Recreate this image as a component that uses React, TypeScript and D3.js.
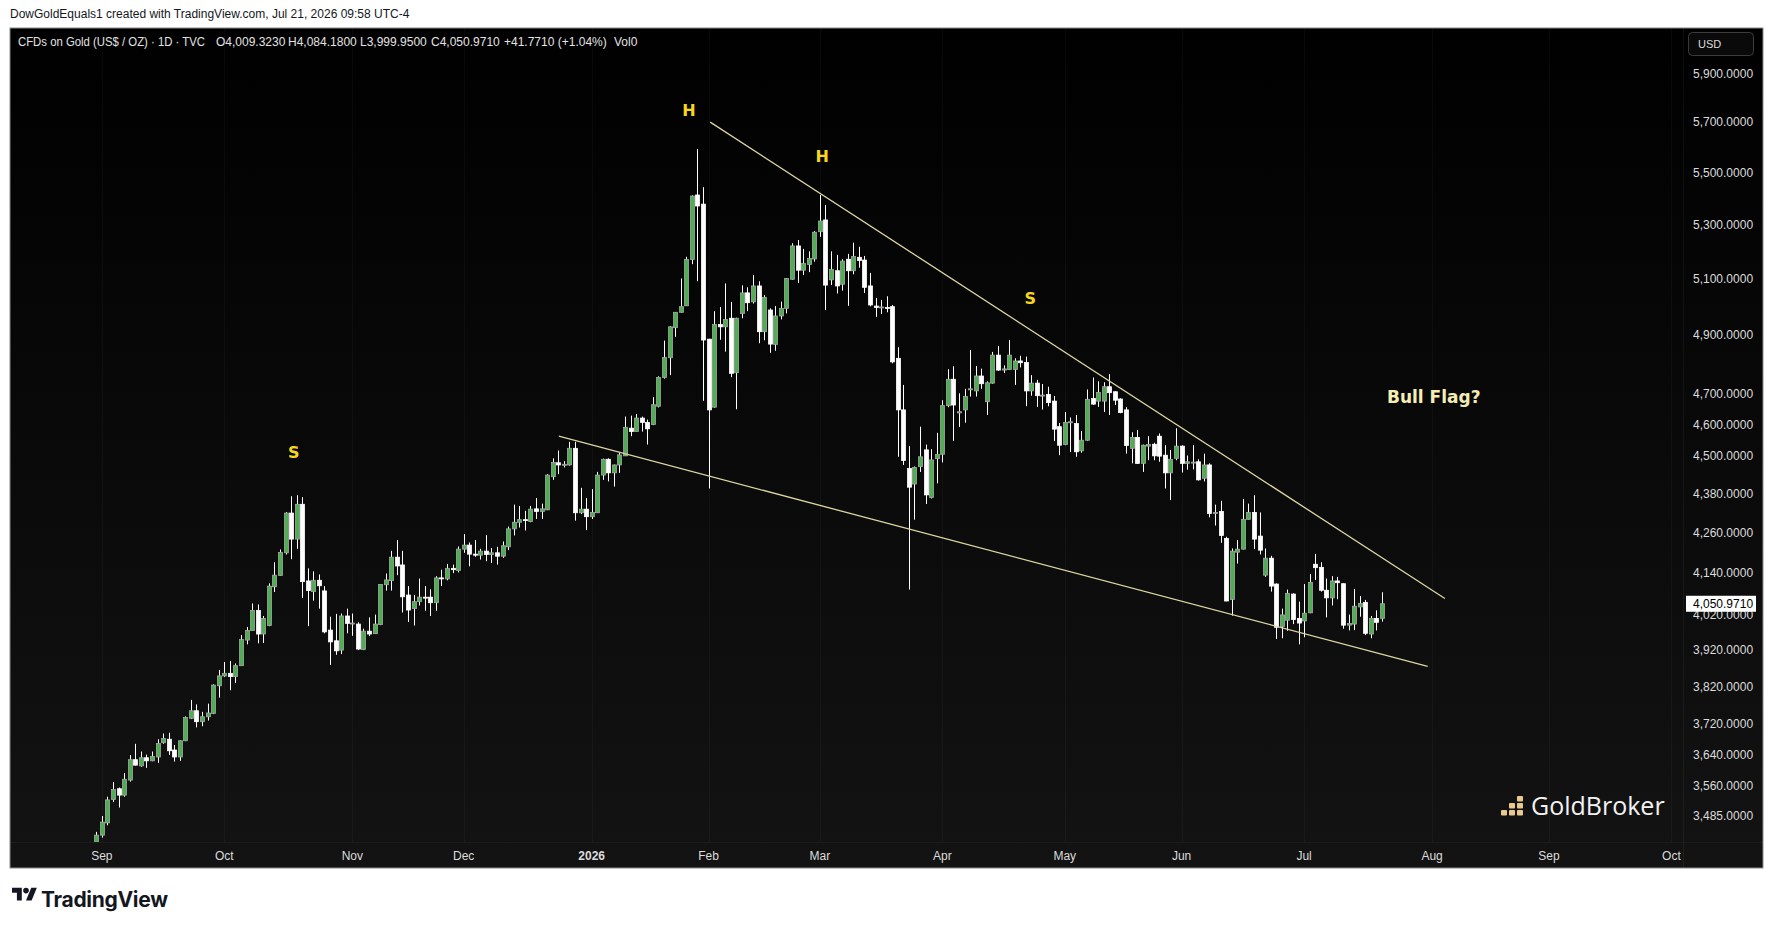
import React from 'react';
import * as d3 from 'd3';

// daily candles [open, high, low, close], first bar Fri 29 Aug 2025
const aug2025 = [[3421, 3446, 3415, 3438]];
const sep2025 = [
  [3438, 3485, 3432, 3470], [3468, 3533, 3462, 3525], [3526, 3570, 3520, 3551], [3553, 3556, 3506, 3537],
  [3537, 3593, 3533, 3577], [3575, 3639, 3571, 3627], [3627, 3668, 3612, 3613], [3611, 3648, 3609, 3632],
  [3632, 3640, 3606, 3624], [3624, 3648, 3623, 3635], [3634, 3680, 3619, 3669], [3671, 3695, 3668, 3682],
  [3680, 3697, 3639, 3650], [3652, 3665, 3622, 3634], [3634, 3677, 3624, 3676], [3676, 3740, 3675, 3737],
  [3735, 3784, 3733, 3755], [3755, 3772, 3711, 3726], [3726, 3752, 3714, 3739], [3739, 3774, 3729, 3749],
  [3748, 3826, 3746, 3824], [3822, 3865, 3790, 3849],
];
const oct2025 = [
  [3849, 3887, 3846, 3856], [3856, 3890, 3810, 3847], [3847, 3883, 3830, 3877], [3877, 3962, 3877, 3950],
  [3948, 3985, 3936, 3975], [3975, 4052, 3975, 4032], [4032, 4049, 3939, 3965], [3965, 4016, 3940, 4009],
  [3989, 4110, 3987, 4102], [4100, 4172, 4085, 4134], [4133, 4210, 4133, 4201], [4200, 4323, 4195, 4320],
  [4320, 4372, 4181, 4241], [4241, 4375, 4212, 4347], [4347, 4369, 4068, 4115], [4117, 4154, 3987, 4089],
  [4086, 4145, 4060, 4119], [4119, 4136, 4037, 4103], [4088, 4102, 3967, 3971], [3976, 4014, 3879, 3943],
  [3946, 4022, 3907, 3918], [3920, 4023, 3909, 4016], [4016, 4037, 3967, 3995],
];
const nov2025 = [
  [3995, 4023, 3960, 3996], [3993, 3998, 3920, 3923], [3922, 3980, 3920, 3973], [3973, 4012, 3959, 3965],
  [3966, 4020, 3966, 3993], [3992, 4107, 3990, 4107], [4106, 4139, 4089, 4120], [4118, 4206, 4089, 4187],
  [4187, 4238, 4134, 4161], [4164, 4206, 4026, 4071], [4076, 4102, 3999, 4033], [4037, 4076, 3989, 4057],
  [4057, 4124, 4046, 4070], [4070, 4102, 4031, 4068], [4070, 4093, 4016, 4054], [4054, 4131, 4031, 4126],
  [4126, 4150, 4102, 4124], [4123, 4167, 4119, 4154], [4154, 4165, 4140, 4150], [4148, 4219, 4142, 4211],
];
const dec2025 = [
  [4211, 4256, 4200, 4223], [4223, 4231, 4160, 4196], [4196, 4238, 4188, 4193], [4193, 4212, 4180, 4205],
  [4205, 4253, 4175, 4195], [4195, 4214, 4170, 4200], [4200, 4218, 4165, 4190], [4190, 4234, 4185, 4221],
  [4218, 4279, 4208, 4272], [4272, 4346, 4252, 4292], [4292, 4342, 4276, 4300], [4300, 4327, 4267, 4298],
  [4294, 4342, 4292, 4332], [4333, 4366, 4302, 4325], [4325, 4349, 4302, 4333], [4330, 4441, 4329, 4438],
  [4433, 4491, 4423, 4478], [4477, 4516, 4441, 4470], [4470, 4482, 4462, 4472], [4470, 4544, 4468, 4523],
  [4523, 4544, 4297, 4321], [4321, 4398, 4317, 4332], [4332, 4366, 4268, 4309],
];
const jan2026 = [
  [4309, 4394, 4302, 4322], [4321, 4448, 4321, 4438], [4438, 4490, 4423, 4488], [4488, 4491, 4418, 4445],
  [4445, 4471, 4402, 4470], [4470, 4509, 4445, 4502], [4499, 4626, 4499, 4591], [4588, 4629, 4562, 4577],
  [4577, 4634, 4577, 4621], [4621, 4626, 4577, 4607], [4607, 4616, 4535, 4586], [4600, 4690, 4598, 4665],
  [4660, 4760, 4656, 4756], [4756, 4882, 4752, 4824], [4823, 4932, 4764, 4930], [4927, 4982, 4895, 4981],
  [4981, 5102, 4980, 5001], [5004, 5181, 5004, 5171], [5171, 5412, 5154, 5409], [5413, 5592, 5092, 5371],
  [5378, 5443, 4678, 4884],
];
const feb2026 = [
  [4887, 4888, 4396, 4648], [4657, 4985, 4655, 4938], [4938, 5000, 4885, 4930], [4930, 5084, 4844, 4956],
  [4960, 5018, 4757, 4770], [4772, 4962, 4650, 4960], [4977, 5077, 4960, 5050], [5050, 5070, 4985, 5015],
  [5018, 5114, 5012, 5075], [5075, 5092, 4873, 4913], [4913, 5042, 4883, 5034], [4989, 4995, 4840, 4870],
  [4869, 5003, 4847, 4968], [4968, 5019, 4956, 4995], [4995, 5103, 4977, 5102], [5099, 5231, 5097, 5221],
  [5221, 5243, 5086, 5132], [5132, 5210, 5114, 5157], [5153, 5201, 5125, 5175], [5173, 5276, 5163, 5272],
];
const mar2026 = [
  [5274, 5413, 5255, 5314], [5318, 5375, 4989, 5078], [5097, 5201, 5078, 5135], [5130, 5188, 5048, 5075],
  [5081, 5172, 5058, 5165], [5172, 5192, 5004, 5130], [5130, 5233, 5117, 5182], [5179, 5218, 5141, 5167],
  [5169, 5184, 5050, 5070], [5075, 5122, 5002, 5007], [5003, 5032, 4965, 4998], [4998, 5025, 4975, 5000],
  [4998, 5038, 4981, 4996], [5001, 5007, 4804, 4809], [4821, 4859, 4496, 4648], [4648, 4731, 4470, 4484],
  [4459, 4530, 4092, 4400], [4410, 4465, 4300, 4462], [4465, 4593, 4448, 4496], [4518, 4535, 4348, 4376],
  [4368, 4520, 4365, 4486], [4490, 4573, 4412, 4503],
];
const apr2026 = [
  [4504, 4680, 4478, 4662], [4662, 4784, 4657, 4750], [4750, 4794, 4547, 4664], [4638, 4703, 4592, 4642],
  [4648, 4718, 4606, 4692], [4715, 4849, 4692, 4718], [4711, 4795, 4692, 4761], [4761, 4786, 4718, 4735],
  [4675, 4743, 4631, 4738], [4737, 4843, 4735, 4832], [4832, 4863, 4779, 4781], [4781, 4797, 4771, 4785],
  [4783, 4884, 4781, 4832], [4783, 4821, 4731, 4812], [4812, 4830, 4790, 4806], [4807, 4827, 4660, 4711],
  [4711, 4764, 4695, 4737], [4737, 4748, 4658, 4695], [4695, 4734, 4649, 4697], [4699, 4725, 4660, 4672],
  [4677, 4694, 4546, 4585], [4593, 4605, 4501, 4533],
];
const may2026 = [
  [4535, 4641, 4533, 4607], [4607, 4623, 4511, 4609], [4603, 4631, 4496, 4512], [4515, 4579, 4509, 4549],
  [4549, 4716, 4547, 4683], [4686, 4756, 4665, 4667], [4677, 4743, 4658, 4706], [4677, 4740, 4641, 4725],
  [4725, 4767, 4631, 4705], [4708, 4710, 4664, 4680], [4684, 4686, 4637, 4639], [4648, 4657, 4506, 4532],
  [4523, 4575, 4475, 4558], [4558, 4582, 4474, 4475], [4475, 4535, 4448, 4533], [4530, 4562, 4485, 4535],
  [4536, 4541, 4485, 4499], [4562, 4571, 4480, 4498], [4501, 4533, 4396, 4445], [4445, 4518, 4360, 4488],
  [4491, 4588, 4485, 4530],
];
const jun2026 = [
  [4530, 4533, 4446, 4475], [4475, 4500, 4455, 4480], [4477, 4533, 4456, 4479], [4480, 4488, 4421, 4423],
  [4428, 4506, 4418, 4470], [4470, 4475, 4307, 4319], [4320, 4346, 4282, 4322], [4325, 4358, 4230, 4252],
  [4243, 4248, 4058, 4059], [4063, 4213, 4017, 4205], [4202, 4238, 4168, 4211], [4211, 4363, 4210, 4301],
  [4301, 4349, 4300, 4322], [4322, 4375, 4211, 4241], [4250, 4322, 4195, 4208], [4134, 4213, 4129, 4184],
  [4184, 4191, 4086, 4102], [4108, 4110, 3951, 3984], [3986, 4037, 3953, 4019], [4004, 4092, 3974, 4081],
  [4079, 4081, 3993, 4006], [4009, 4057, 3936, 3996],
];
const jul2026 = [
  [4002, 4108, 3956, 4024], [4025, 4137, 4024, 4113], [4166, 4197, 4120, 4156], [4157, 4172, 4086, 4090],
  [4090, 4124, 4012, 4068], [4068, 4131, 4046, 4117], [4117, 4129, 4064, 4112], [4109, 4110, 3980, 3990],
  [3990, 4020, 3975, 3995], [3993, 4094, 3976, 4044], [4042, 4073, 4014, 4052], [4055, 4062, 3962, 3967],
  [3965, 4016, 3953, 4009], [4009, 4032, 3975, 3998], [4009.323, 4084.18, 3999.95, 4050.971],
];

const holidays = ['2026-01-01'];
const monthLabels = ['Sep', 'Oct', 'Nov', 'Dec', '2026', 'Feb', 'Mar', 'Apr', 'May', 'Jun', 'Jul', 'Aug', 'Sep', 'Oct'];
const priceTicks = [5900, 5700, 5500, 5300, 5100, 4900, 4700, 4600, 4500, 4380, 4260, 4140, 4020, 3920, 3820, 3720, 3640, 3560, 3485];
const lastPrice = 4050.971;

// trend lines as [bar index, price]
const upperLine = [[110.3, 5700], [242.3, 4066]];
const lowerLine = [[83.1, 4562], [239.2, 3875]];

const patternLabels = [
  { text: 'S', i: 35.5, price: 4511 },
  { text: 'H', i: 106.5, price: 5749 },
  { text: 'H', i: 130.4, price: 5561 },
  { text: 'S', i: 167.8, price: 5030 },
];
const note = { text: 'Bull Flag?', i: 240.3, price: 4691 };

const header = [
  { t: 'CFDs on Gold (US$ / OZ) · 1D · TVC', x: 18, w: 187 },
  { t: 'O4,009.3230', x: 216 },
  { t: 'H4,084.1800', x: 288 },
  { t: 'L3,999.9500', x: 360 },
  { t: 'C4,050.9710', x: 431 },
  { t: '+41.7710 (+1.04%)', x: 504 },
  { t: 'Vol0', x: 614 },
];

const font = '"Liberation Sans", Arial, sans-serif';

export default function App() {
  const bars = [...aug2025, ...sep2025, ...oct2025, ...nov2025, ...dec2025, ...jan2026,
    ...feb2026, ...mar2026, ...apr2026, ...may2026, ...jun2026, ...jul2026];

  const key = d3.timeFormat('%Y-%m-%d');
  const calendar = d3.timeDay.range(new Date(2025, 7, 29), new Date(2026, 9, 5))
    .filter(d => d.getDay() !== 0 && d.getDay() !== 6 && !holidays.includes(key(d)));
  const monthStarts = calendar
    .map((d, i) => (i > 0 && d.getMonth() !== calendar[i - 1].getMonth() ? i : -1))
    .filter(i => i >= 0);

  const x = d3.scaleLinear().domain([0, bars.length - 1]).range([96.3, 1382]);
  const y = d3.scaleLog().domain([5900, 3485]).range([73.5, 816]);

  const lineGen = d3.line<number[]>().x(d => x(d[0])).y(d => y(d[1]));

  const yLast = y(lastPrice);

  return (
    <svg width={1773} height={930} style={{ position: 'absolute', left: 0, top: 0, background: '#fff' }}>
      <defs>
        <linearGradient id="bg" x1="0" y1="0" x2="0" y2="1">
          <stop offset="0" stopColor="#000" />
          <stop offset="1" stopColor="#131313" />
        </linearGradient>
        <clipPath id="plot">
          <rect x={10} y={28} width={1673} height={814} />
        </clipPath>
      </defs>

      <text x={10} y={18} fontFamily={font} fontSize={12} fill="#131722">
        DowGoldEquals1 created with TradingView.com, Jul 21, 2026 09:58 UTC-4
      </text>

      <rect x={10} y={28} width={1753} height={840} fill="url(#bg)" stroke="#8a8a8a" strokeWidth={1} />

      {/* faint month grid */}
      {monthStarts.map(i => (
        <line key={'g' + i} x1={Math.round(x(i)) + 0.5} x2={Math.round(x(i)) + 0.5} y1={28} y2={842}
          stroke="#fff" strokeOpacity={0.035} />
      ))}
      <line x1={1683.5} x2={1683.5} y1={28} y2={868} stroke="#fff" strokeOpacity={0.05} />
      <line x1={10} x2={1763} y1={842.5} y2={842.5} stroke="#fff" strokeOpacity={0.04} />

      <g fontFamily={font} fontSize={12} fill="#e3e3e3">
        {header.map(h => (
          <text key={h.t} x={h.x} y={46} textLength={h.w} lengthAdjust="spacingAndGlyphs">{h.t}</text>
        ))}
      </g>

      <g clipPath="url(#plot)">
        {bars.map(([o, h, l, c], i) => {
          const cx = Math.round(x(i));
          const up = c >= o;
          const top = y(Math.max(o, c));
          const bot = y(Math.min(o, c));
          return (
            <g key={i}>
              <line x1={cx + 0.5} x2={cx + 0.5} y1={y(h)} y2={y(l)} stroke="#fff" strokeWidth={1} />
              <rect x={cx - 1.5} y={top} width={4} height={Math.max(1, bot - top)}
                fill={up ? '#4caf50' : '#ffffff'} stroke={up ? '#a6a6a6' : '#ffffff'} strokeWidth={0.8} />
            </g>
          );
        })}

        <path d={lineGen(upperLine) || ''} stroke="#ddd6a2" strokeWidth={1.3} fill="none" />
        <path d={lineGen(lowerLine) || ''} stroke="#ddd6a2" strokeWidth={1.3} fill="none" />

        {patternLabels.map((p, k) => (
          <text key={k} x={x(p.i)} y={y(p.price)} textAnchor="middle" dominantBaseline="central"
            fontFamily='"DejaVu Sans", sans-serif' fontWeight="bold" fontSize={16} fill="#f7d71e">
            {p.text}
          </text>
        ))}
        <text x={x(note.i)} y={y(note.price)} textAnchor="middle" dominantBaseline="central"
          fontFamily='"DejaVu Sans", sans-serif' fontWeight="bold" fontSize={17} fill="#f6edb4">
          {note.text}
        </text>
      </g>

      {/* GoldBroker watermark */}
      <g fill="#e9c98d">
        {[[1501, 810], [1509, 810], [1517, 810], [1509, 803], [1517, 803], [1517, 796]].map(([bx, by], k) => (
          <rect key={k} x={bx} y={by} width={6} height={5.5} rx={1} />
        ))}
      </g>
      <text x={1531} y={815} fontFamily='"Open Sans", sans-serif' fontSize={25} fill="#f2f2f2">GoldBroker</text>

      {/* price scale */}
      <rect x={1688.5} y={32.5} width={65} height={23} rx={4} fill="#0a0a0a" stroke="#3b3b3b" />
      <text x={1698} y={48} fontFamily={font} fontSize={11} fill="#dcdcdc">USD</text>
      <g fontFamily={font} fontSize={12} fill="#dcdcdc">
        {priceTicks.map(p => (
          <text key={p} x={1693} y={y(p) + 4}>{d3.format(',.4f')(p)}</text>
        ))}
      </g>
      <rect x={1686} y={yLast - 8} width={70} height={16} fill="#ffffff" />
      <text x={1693} y={yLast + 4} fontFamily={font} fontSize={12} fill="#000">{d3.format(',.4f')(lastPrice)}</text>

      {/* time scale */}
      <g fontFamily={font} fontSize={12} fill="#dcdcdc" textAnchor="middle">
        {monthStarts.map((i, k) => (
          <text key={'m' + i} x={x(i)} y={860} fontWeight={monthLabels[k] === '2026' ? 'bold' : 'normal'}>
            {monthLabels[k]}
          </text>
        ))}
      </g>

      {/* TradingView logo */}
      <g transform="translate(12,885) scale(0.7)" fill="#131722">
        <path d="M14 22H7V11H0V4h14v18zM28 22h-8l7.5-18h8L28 22z" />
        <circle cx={20} cy={8} r={4} />
      </g>
      <text x={41} y={907} fontFamily='Inter, "Liberation Sans", sans-serif' fontWeight="bold" fontSize={21}
        fill="#131722" letterSpacing={-0.3}>TradingView</text>
    </svg>
  );
}
